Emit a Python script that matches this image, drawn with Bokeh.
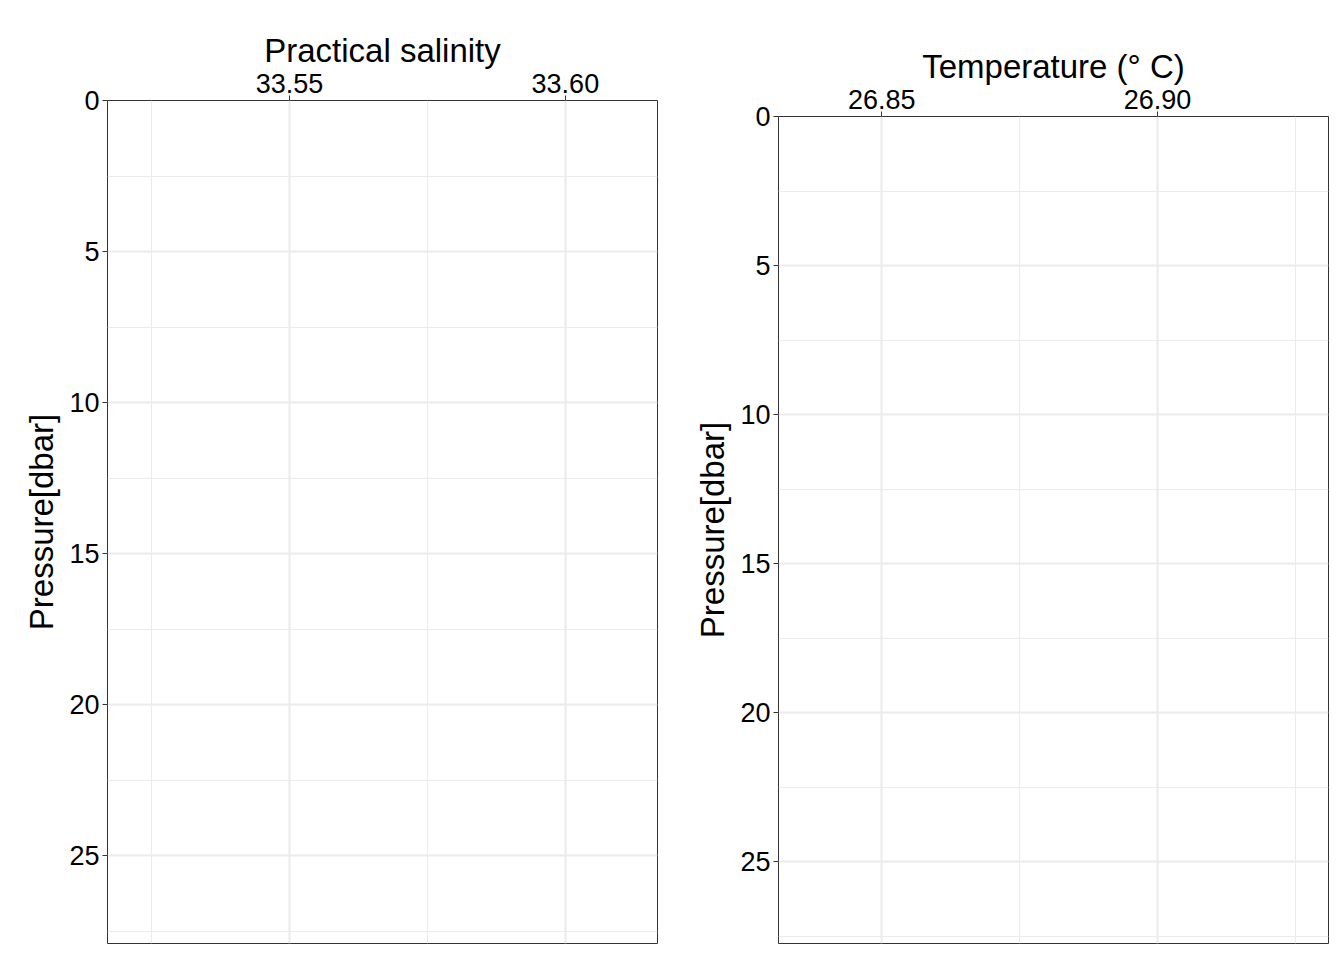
from bokeh.plotting import figure
from bokeh.layouts import row, column
from bokeh.models import Range1d, FixedTicker
from bokeh.embed import file_html
from bokeh.resources import INLINE

sal_ticks = [33.55, 33.60]
sal_minor = [33.525, 33.575]
temp_ticks = [26.85, 26.90]
temp_minor = [26.825, 26.875, 26.925]
p_ticks = [0, 5, 10, 15, 20, 25]
p_minor = [2.5, 7.5, 12.5, 17.5, 22.5, 27.5]
# profile data (empty in reference)
pressure = []
salinity = []
temperature = []

FONT = "Liberation Sans"

def make(xr, yr, xt, xm, xlabel, w, h, bl, br, bt, bb, xs):
    p = figure(width=w, height=h, x_range=Range1d(*xr), y_range=Range1d(*yr),
               x_axis_location="above", output_backend="svg", toolbar_location=None,
               min_border_left=bl, min_border_right=br, min_border_top=bt, min_border_bottom=bb)
    p.line(xs, pressure, line_color="black")
    p.xaxis.ticker = FixedTicker(ticks=xt, minor_ticks=xm)
    p.xaxis.major_label_overrides = {t: f"{t:.2f}" for t in xt}
    p.yaxis.ticker = FixedTicker(ticks=p_ticks, minor_ticks=p_minor)
    for ax in (p.xaxis[0], p.yaxis[0]):
        ax.axis_line_color = None
        ax.major_tick_line_color = "#333333"
        ax.major_tick_out = 5
        ax.major_tick_in = 0
        ax.minor_tick_line_color = None
        ax.major_label_text_font = FONT
        ax.major_label_text_font_size = "27px"
        ax.major_label_text_color = "black"
        ax.axis_label_text_font = FONT
        ax.axis_label_text_font_size = "33px"
        ax.axis_label_text_font_style = "normal"
        ax.axis_label_text_color = "black"
        ax.major_label_standoff = 3
    p.xaxis.axis_label = xlabel
    p.yaxis.axis_label = "Pressure[dbar]"
    p.xaxis.axis_label_standoff = 2
    p.yaxis.axis_label_standoff = 6
    for g in (p.xgrid[0], p.ygrid[0]):
        g.grid_line_color = "#EBEBEB"
        g.grid_line_width = 2
        g.minor_grid_line_color = "#EBEBEB"
        g.minor_grid_line_width = 1
    p.outline_line_color = "#333333"
    p.outline_line_width = 1
    p.background_fill_color = "white"
    return p

left = make((33.517, 33.6167), (27.9, 0), sal_ticks, sal_minor, "Practical salinity",
            670, 955, 107, 13, 100, 12, salinity)
right = make((26.8313, 26.931), (27.75, 0), temp_ticks, temp_minor, "Temperature (° C)",
             674, 955, 108, 16, 116, 12, temperature)

layout = row(column(left), column(right))
open("out.html", "w").write(file_html(layout, INLINE))
